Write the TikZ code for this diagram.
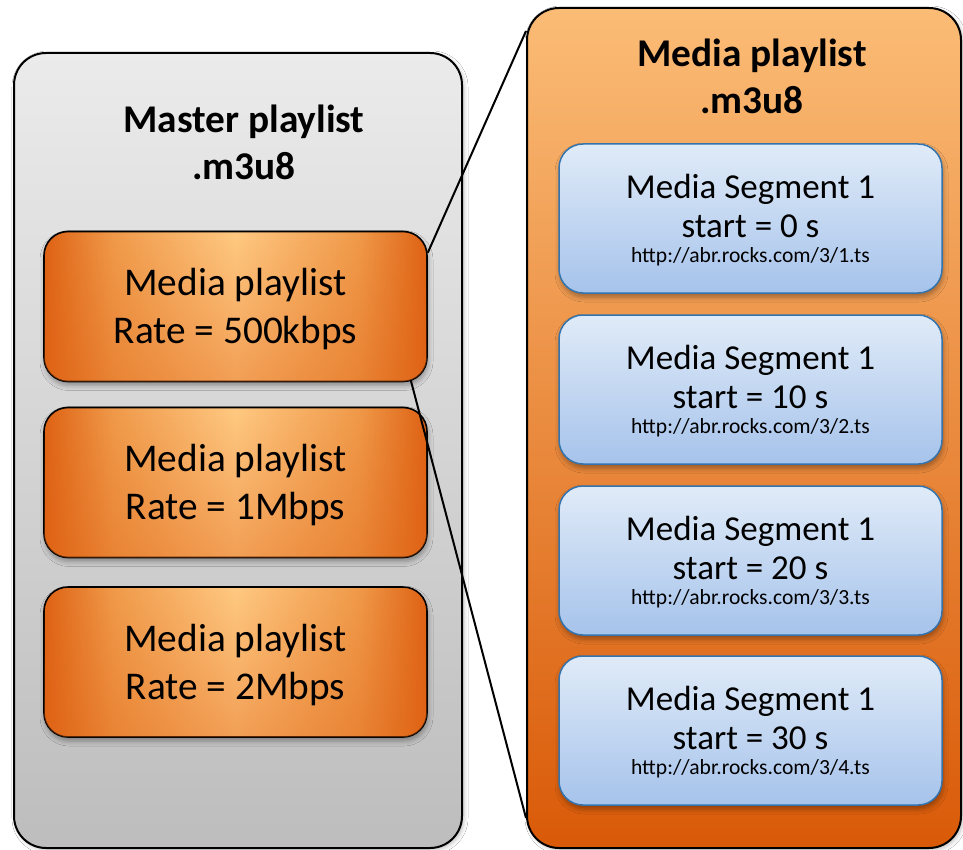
\documentclass[tikz,border=0pt]{standalone}
\usepackage{fontspec}
\setmainfont{Carlito}
\usetikzlibrary{shadows.blur,fadings}

% palette
\definecolor{grayTop}{HTML}{EBEBEB}
\definecolor{grayBot}{HTML}{BDBDBD}
\definecolor{panelOrTop}{HTML}{FBBC76}
\definecolor{panelOrBot}{HTML}{D95A08}
\definecolor{orgL}{HTML}{FFC982}
\definecolor{orgM}{HTML}{F09A4A}
\definecolor{orgD}{HTML}{DF6214}
\definecolor{segTop}{HTML}{E0EBF8}
\definecolor{segBot}{HTML}{A6C3EB}
\definecolor{segLine}{HTML}{3474AE}

% light centre, dark sides for the rendition boxes
\pgfdeclarehorizontalshading{rendglow}{100bp}{color(0bp)=(orgD); color(25bp)=(orgD);
  color(34bp)=(orgM); color(50bp)=(orgL); color(66bp)=(orgM);
  color(75bp)=(orgD); color(100bp)=(orgD)}
% darkens the lower part of the rendition boxes
\tikzfading[name=bottomdeep, top color=transparent!100, bottom color=transparent!60]

\tikzset{
  softshadow/.style={blur shadow={shadow xshift=1pt, shadow yshift=-4pt,
      shadow blur radius=5pt, shadow opacity=35}},
  panel/.style={draw=black, line width=2pt, rounded corners=32pt, inner sep=0pt,
      blur shadow={shadow xshift=2pt, shadow yshift=-2pt,
      shadow blur radius=4pt, shadow opacity=25}},
  masterpanel/.style={panel, top color=grayTop, bottom color=grayBot,
      minimum width=448pt, minimum height=795pt},
  mediapanel/.style={panel, top color=panelOrTop, bottom color=panelOrBot,
      minimum width=434pt, minimum height=840pt},
  paneltitle/.style={align=center, font=\bfseries\fontsize{39.3}{47}\selectfont, inner sep=0pt},
  rendition/.style={draw=black, line width=1.6pt, rounded corners=24pt,
      minimum width=383pt, minimum height=150pt, inner sep=0pt,
      shading=rendglow, postaction={fill=orgD, path fading=bottomdeep},
      softshadow},
  rendtext/.style={align=center, inner sep=0pt, font=\fontsize{39.3}{48}\selectfont},
  segment/.style={draw=segLine, line width=1.5pt, rounded corners=24pt,
      minimum width=383pt, minimum height=149pt, inner sep=0pt,
      top color=segTop, bottom color=segBot, softshadow},
  segtext/.style={align=center, inner sep=0pt, font=\fontsize{35}{39}\selectfont},
  connector/.style={draw=black, line width=2pt}
}

% third, smaller line of a segment box
\newcommand{\urlline}[1]{\\[-14pt]{\fontsize{21.6}{25}\selectfont #1}}

\begin{document}
\begin{tikzpicture}[x=1pt, y=-1pt]
  \useasboundingbox (0,0) rectangle (963,850);
  \fill[white] (0,0) rectangle (963,850);

  % the two playlist panels
  \node[masterpanel] (master) at (238,450.5) {};
  \node[mediapanel]  (media)  at (744,428)   {};

  \node[paneltitle] (mastertitle) at (244,142) {Master playlist\\.m3u8};
  \node[paneltitle] (mediatitle)  at (752,76)  {Media playlist\\.m3u8};

  % renditions listed in the master playlist
  \node[rendition] (mp1) at (235.5,306.5) {};
  \node[rendition] (mp2) at (235.5,482.5) {};
  \node[rendition] (mp3) at (235.5,662)   {};
  \node[rendtext] (mp1t) at ([yshift=-3pt]mp1.center) {Media playlist\\Rate = 500kbps};
  \node[rendtext] (mp2t) at ([yshift=-3pt]mp2.center) {Media playlist\\Rate = 1Mbps};
  \node[rendtext] (mp3t) at ([yshift=-3pt]mp3.center) {Media playlist\\Rate = 2Mbps};

  % segments listed in the media playlist
  \node[segment] (seg1) at (750.5,218.5) {};
  \node[segment] (seg2) at (750.5,389.5) {};
  \node[segment] (seg3) at (750.5,560.5) {};
  \node[segment] (seg4) at (750.5,730.5) {};
  \node[segtext] (seg1t) at ([yshift=-1.5pt]seg1.center) {Media Segment 1\\start = 0 s\urlline{http://abr.rocks.com/3/1.ts}};
  \node[segtext] (seg2t) at ([yshift=-1.5pt]seg2.center) {Media Segment 1\\start = 10 s\urlline{http://abr.rocks.com/3/2.ts}};
  \node[segtext] (seg3t) at ([yshift=-1.5pt]seg3.center) {Media Segment 1\\start = 20 s\urlline{http://abr.rocks.com/3/3.ts}};
  \node[segtext] (seg4t) at ([yshift=-1.5pt]seg4.center) {Media Segment 1\\start = 30 s\urlline{http://abr.rocks.com/3/4.ts}};

  % zoom lines from the first rendition to its media playlist
  \draw[connector] ([yshift=-22pt]mp1.north east) -- ([yshift=-24pt]media.north west);
  \draw[connector] ([xshift=-17pt,yshift=2pt]mp1.south east) -- ([yshift=31pt]media.south west);
\end{tikzpicture}
\end{document}
